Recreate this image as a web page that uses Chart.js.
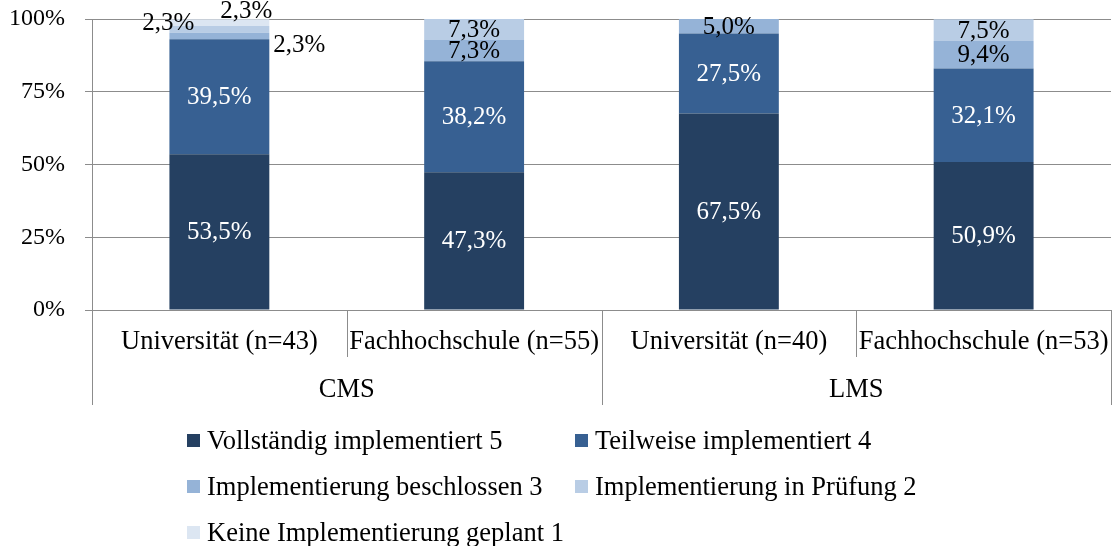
<!DOCTYPE html>
<html>
<head>
<meta charset="utf-8">
<script src="https://cdn.jsdelivr.net/npm/chart.js@4/dist/chart.umd.min.js"></script>
<style>
  body { margin: 0; background: #fff; }
  #wrap { width: 1113px; height: 546px; position: relative; }
</style>
</head>
<body>
<div id="wrap"><canvas id="myChart"></canvas></div>
<script>
// categories (two-level axis)
const subLabels = ['Universität (n=43)', 'Fachhochschule (n=55)', 'Universität (n=40)', 'Fachhochschule (n=53)'];
const groupLabels = ['CMS', 'LMS'];
const yTicks = [0, 25, 50, 75, 100];

// series values in percent (0 = no segment)
const voll = [53.5, 47.3, 67.5, 50.9];
const teil = [39.5, 38.2, 27.5, 32.1];
const beschlossen = [2.3, 7.3, 5.0, 9.4];
const pruefung = [2.3, 7.3, 0, 7.5];
const keine = [2.3, 0, 0, 0];

const seriesNames = [
	'Vollständig implementiert 5',
	'Teilweise implementiert 4',
	'Implementierung beschlossen 3',
	'Implementierung in Prüfung 2',
	'Keine Implementierung geplant 1'
];
const colors = ['#254061', '#376092', '#95B3D7', '#B9CDE5', '#DCE6F2'];
const labelColors = ['#fff', '#fff', '#000', '#000', '#000'];

const SERIF = "'Liberation Serif', 'Times New Roman', serif";
const TEXT_FONT = '26.5px ' + SERIF;
const VALUE_FONT = '25px ' + SERIF;
const GRID = '#8c8c8c';

// hand moved labels for the crowded top of the first bar: [dataset, index, dx, dy]
const labelShifts = [[2, 0, 80, 8], [3, 0, -51, -7], [4, 0, 27, -12]];

function fmt(v) {
	return v.toFixed(1).replace('.', ',') + '%';
}

const valueLabels = {
	id: 'valueLabels',
	afterDatasetsDraw(chart) {
		const ctx = chart.ctx;
		ctx.save();
		ctx.font = VALUE_FONT;
		ctx.textAlign = 'center';
		ctx.textBaseline = 'middle';
		chart.data.datasets.forEach(function(ds, i) {
			const meta = chart.getDatasetMeta(i);
			meta.data.forEach(function(bar, j) {
				const v = ds.data[j];
				if (!v) return;
				let x = bar.x;
				let y = (bar.y + bar.base) / 2;
				for (const s of labelShifts) {
					if (s[0] === i && s[1] === j) { x += s[2]; y += s[3]; }
				}
				ctx.fillStyle = labelColors[i];
				ctx.fillText(fmt(v), x, y + 1);
			});
		});
		ctx.restore();
	}
};

// two level category axis + legend drawn on the canvas
const axisAndLegend = {
	id: 'axisAndLegend',
	afterDraw(chart) {
		const ctx = chart.ctx;
		const area = chart.chartArea;
		const xs = chart.scales.x;
		const n = subLabels.length;
		const half = (xs.getPixelForValue(1) - xs.getPixelForValue(0)) / 2;
		ctx.save();
		ctx.strokeStyle = GRID;
		ctx.lineWidth = 1;
		// separators
		for (let k = 0; k <= n; k++) {
			let x = k === n ? area.right : xs.getPixelForValue(k) - half;
			x = Math.round(x) + 0.5;
			const long = k % 2 === 0;
			ctx.beginPath();
			ctx.moveTo(x, area.bottom);
			ctx.lineTo(x, area.bottom + (long ? 95 : 47));
			ctx.stroke();
		}
		ctx.font = TEXT_FONT;
		ctx.fillStyle = '#000';
		ctx.textAlign = 'center';
		ctx.textBaseline = 'middle';
		subLabels.forEach(function(l, k) {
			ctx.fillText(l, xs.getPixelForValue(k), area.bottom + 32);
		});
		groupLabels.forEach(function(g, k) {
			const x = (xs.getPixelForValue(2 * k) + xs.getPixelForValue(2 * k + 1)) / 2;
			ctx.fillText(g, x, area.bottom + 80);
		});
		// legend
		const cols = [187, 575];
		const rows = [441, 487, 533];
		ctx.textAlign = 'left';
		chart.data.datasets.forEach(function(ds, i) {
			const x = cols[i % 2];
			const y = rows[Math.floor(i / 2)];
			ctx.fillStyle = ds.backgroundColor;
			ctx.fillRect(x, y - 7, 13, 13);
			ctx.fillStyle = '#000';
			ctx.fillText(ds.label, x + 20, y + 1);
		});
		ctx.restore();
	}
};

const allSeries = [voll, teil, beschlossen, pruefung, keine];

new Chart(document.getElementById('myChart').getContext('2d'), {
	type: 'bar',
	data: {
		labels: subLabels,
		datasets: allSeries.map(function(d, i) {
			return {
				label: seriesNames[i],
				data: d,
				backgroundColor: colors[i],
				borderWidth: 0,
				categoryPercentage: 1,
				barPercentage: 100 / 255
			};
		})
	},
	options: {
		responsive: true,
		maintainAspectRatio: false,
		animation: false,
		layout: { padding: { top: 19, right: 2, left: 0, bottom: 0 } },
		plugins: {
			legend: { display: false },
			tooltip: { enabled: false }
		},
		scales: {
			x: {
				stacked: true,
				grid: { display: false },
				border: { display: true, color: GRID },
				ticks: { display: false },
				afterFit: function(scale) { scale.height = 236; }
			},
			y: {
				stacked: true,
				min: 0,
				max: 100,
				afterBuildTicks: function(scale) {
					scale.ticks = yTicks.map(function(v) { return { value: v }; });
				},
				grid: { color: GRID, tickLength: 7 },
				border: { display: true, color: GRID },
				ticks: {
					color: '#000',
					font: { family: SERIF, size: 24 },
					padding: 20,
					callback: function(v) { return v + '%'; }
				},
				afterFit: function(scale) {
					scale.width = 92;
					scale.paddingTop = 0;
					scale.paddingBottom = 0;
				}
			}
		}
	},
	plugins: [valueLabels, axisAndLegend]
});
</script>
</body>
</html>
